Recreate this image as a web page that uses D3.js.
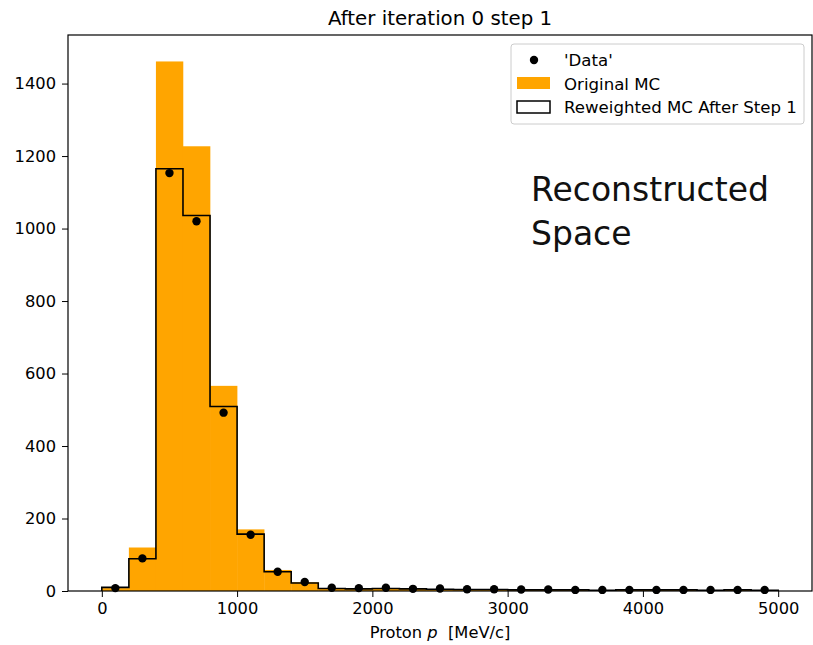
<!DOCTYPE html>
<html><head><meta charset="utf-8">
<script src="https://cdn.jsdelivr.net/npm/d3@7"></script>
<style>body{margin:0;background:#fff;} text{font-family:"DejaVu Sans",sans-serif;}</style>
</head><body>
<svg id="c" width="813" height="645"></svg>
<script>
const binEdges = d3.range(0, 5001, 200);
const dataVals = [8,90,1153,1020,492,155,53,25,9,8,9,6,7,5,5,4,4,3,3,3,3,3,3,3,3];
const originalMC = [8,120,1461,1227,566,170,58,24,8,7,8,6,5,4,4,3,3,3,2,3,3,3,2,3,2];
const reweightedMC = [10,89,1165,1036,509,157,53,22,7,6,7,6,5,4,4,3,3,3,2,3,3,3,2,3,2];
const xTicks = [0,1000,2000,3000,4000,5000];
const yTicks = [0,200,400,600,800,1000,1200,1400];

const svg = d3.select("#c");
const L = 68, R = 812, T = 35, B = 591;
const x = d3.scaleLinear().domain([-250, 5250]).range([L, R]);
const y = d3.scaleLinear().domain([0, 1534]).range([B, T]);

svg.append("g").selectAll("rect").data(originalMC).join("rect")
  .attr("x", (d,i)=>x(binEdges[i])).attr("width",(d,i)=>x(binEdges[i+1])-x(binEdges[i])+0.3)
  .attr("y", d=>y(d)).attr("height", d=>y(0)-y(d)).attr("fill","#ffa500");

const pts = [];
reweightedMC.forEach((v,i)=>{ pts.push([binEdges[i], v]); pts.push([binEdges[i+1], v]); });
const path = [[0,0], ...pts, [5000,0]];
svg.append("path").attr("d", d3.line().x(d=>x(d[0])).y(d=>y(d[1]))(path))
  .attr("fill","none").attr("stroke","#000").attr("stroke-width",1.6);

svg.append("g").selectAll("circle").data(dataVals).join("circle")
  .attr("cx",(d,i)=>x((binEdges[i]+binEdges[i+1])/2)).attr("cy", d=>y(d)).attr("r",4.2).attr("fill","#000");

const xa = svg.append("g").attr("transform",`translate(0,${B})`)
  .call(d3.axisBottom(x).tickValues(xTicks).tickSize(6).tickPadding(5).tickFormat(d3.format("d")));
const ya = svg.append("g").attr("transform",`translate(${L},0)`)
  .call(d3.axisLeft(y).tickValues(yTicks).tickSize(6).tickPadding(6).tickFormat(d3.format("d")));
[xa,ya].forEach(a=>{ a.select(".domain").remove(); a.selectAll("text").attr("font-size",16.3).attr("font-family","DejaVu Sans").attr("fill","#000"); a.selectAll("line").attr("stroke","#000").attr("stroke-width",1); });
svg.append("rect").attr("x",L).attr("y",T).attr("width",R-L).attr("height",B-T)
  .attr("fill","none").attr("stroke","#000").attr("stroke-width",1.2);

svg.append("text").attr("x",(L+R)/2).attr("y",25).attr("text-anchor","middle")
  .attr("font-size",19.8).text("After iteration 0 step 1");
const xl = svg.append("text").attr("x",(L+R)/2).attr("y",638).attr("text-anchor","middle").attr("font-size",16.3).attr("xml:space","preserve");
xl.append("tspan").text("Proton ");
xl.append("tspan").attr("font-style","italic").text("p");
xl.append("tspan").text("  [MeV/c]");

const lg = svg.append("g");
lg.append("rect").attr("x",511).attr("y",44).attr("width",293).attr("height",80).attr("rx",3)
  .attr("fill","#fff").attr("fill-opacity",0.8).attr("stroke","#ccc");
lg.append("circle").attr("cx",534).attr("cy",60).attr("r",4.2).attr("fill","#000");
lg.append("rect").attr("x",517).attr("y",77).attr("width",33).attr("height",12).attr("fill","#ffa500");
lg.append("rect").attr("x",517).attr("y",101).attr("width",33).attr("height",12).attr("fill","none").attr("stroke","#000").attr("stroke-width",1.5);
const lt = ["'Data'","Original MC","Reweighted MC After Step 1"];
lt.forEach((t,i)=> lg.append("text").attr("x",564).attr("y",66+i*23.7).attr("font-size",16.6).text(t));

const an = svg.append("text").attr("font-family","Lato, 'Open Sans', sans-serif").attr("font-size",33).attr("fill","#111");
an.append("tspan").attr("x",531).attr("y",201).text("Reconstructed");
an.append("tspan").attr("x",531).attr("y",245).text("Space");
</script>
</body></html>
